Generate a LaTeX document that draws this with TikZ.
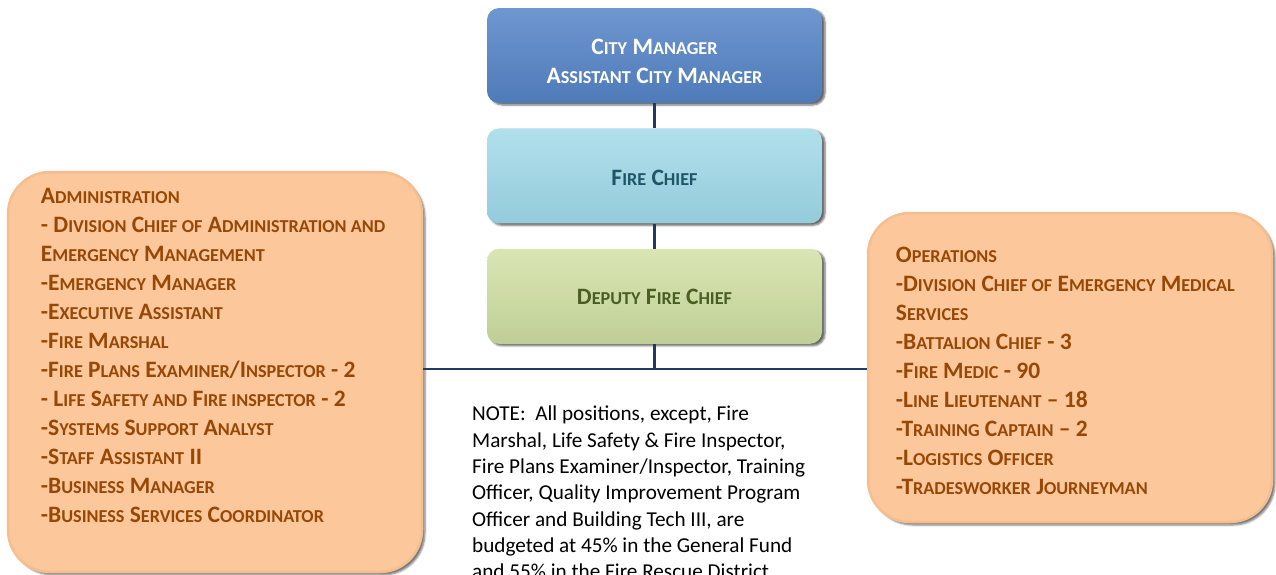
\documentclass[tikz,border=0pt]{standalone}
\usepackage{fontspec}
\setmainfont{Carlito}
\usetikzlibrary{positioning,shadows.blur}

\definecolor{cmblue}{HTML}{5585C8}
\definecolor{chiefblue}{HTML}{9ED8E8}
\definecolor{deputygreen}{HTML}{D0E0A2}
\definecolor{divorange}{HTML}{FCC79A}
\definecolor{chieftext}{HTML}{1F5566}
\definecolor{deputytext}{HTML}{4A5E22}
\definecolor{divtext}{HTML}{974806}
\definecolor{linkblue}{HTML}{1F3A64}

% small capitals by hand
\newcommand\sm[1]{{\fontsize{18.2}{29}\selectfont #1}}

\tikzset{
  topbox/.style={rounded corners=12pt, minimum width=335pt, minimum height=95pt,
    align=center, font=\bfseries\fontsize{23.5}{29}\selectfont,
    blur shadow={shadow xshift=3pt, shadow yshift=-2pt, shadow opacity=60}},
  divbox/.style={rounded corners=42pt, fill=divorange, draw=divorange!88!brown,
    line width=2.5pt, blur shadow={shadow xshift=3pt, shadow yshift=-3pt, shadow opacity=55}},
  divtext/.style={align=left, inner sep=0pt, text=divtext,
    font=\bfseries\fontsize{23.5}{29}\selectfont},
  link/.style={draw=linkblue, line width=2.4pt}
}

\begin{document}
\begin{tikzpicture}[x=1pt, y=-1pt]
  \useasboundingbox (0,0) rectangle (1276,574);

  % chain of command
  \node[topbox, top color=cmblue!85!white, bottom color=cmblue!92!black, text=white]
    (cm) at (654.5,55.5) {\rule{0pt}{27pt}C\sm{ITY} M\sm{ANAGER}\\A\sm{SSISTANT} C\sm{ITY} M\sm{ANAGER}};
  \node[topbox, top color=chiefblue!80!white, bottom color=chiefblue!94!black, text=chieftext,
    below=25pt of cm] (chief) {\rule{0pt}{19pt}F\sm{IRE} C\sm{HIEF}};
  \node[topbox, top color=deputygreen!80!white, bottom color=deputygreen!92!black, text=deputytext,
    below=25pt of chief] (deputy) {\rule{0pt}{17pt}D\sm{EPUTY} F\sm{IRE} C\sm{HIEF}};

  % divisions
  \node[divbox, minimum width=414pt, minimum height=400pt] (admin) at (215,372) {};
  \node[divbox, minimum width=404pt, minimum height=309pt] (ops) at (1070,367.5) {};

  \node[divtext, anchor=north west] (admintext) at ([xshift=34pt, yshift=-17pt]admin.north west) {%
    A\sm{DMINISTRATION}\\
    - D\sm{IVISION} C\sm{HIEF OF} A\sm{DMINISTRATION AND}\\
    E\sm{MERGENCY} M\sm{ANAGEMENT}\\
    -E\sm{MERGENCY} M\sm{ANAGER}\\
    -E\sm{XECUTIVE} A\sm{SSISTANT}\\
    -F\sm{IRE} M\sm{ARSHAL}\\
    -F\sm{IRE} P\sm{LANS} E\sm{XAMINER}/I\sm{NSPECTOR} - 2\\
    - L\sm{IFE} S\sm{AFETY AND} F\sm{IRE INSPECTOR} - 2\\
    -S\sm{YSTEMS} S\sm{UPPORT} A\sm{NALYST}\\
    -S\sm{TAFF} A\sm{SSISTANT} II\\
    -B\sm{USINESS} M\sm{ANAGER}\\
    -B\sm{USINESS} S\sm{ERVICES} C\sm{OORDINATOR}};

  \node[divtext, anchor=north west] (opstext) at ([xshift=29pt, yshift=-35.5pt]ops.north west) {%
    O\sm{PERATIONS}\\
    -D\sm{IVISION} C\sm{HIEF OF} E\sm{MERGENCY} M\sm{EDICAL}\\
    S\sm{ERVICES}\\
    -B\sm{ATTALION} C\sm{HIEF} - 3\\
    -F\sm{IRE} M\sm{EDIC} - 90\\
    -L\sm{INE} L\sm{IEUTENANT} – 18\\
    -T\sm{RAINING} C\sm{APTAIN} – 2\\
    -L\sm{OGISTICS} O\sm{FFICER}\\
    -T\sm{RADESWORKER} J\sm{OURNEYMAN}};

  % connectors
  \coordinate (join) at ([yshift=-25pt]deputy.south);
  \draw[link] (cm) -- (chief);
  \draw[link] (chief) -- (deputy);
  \draw[link] (deputy) -- (join);
  \draw[link] (admin.east |- join) -- (ops.west |- join);

  % budget note
  \node[anchor=north west, align=left, inner sep=0pt, font=\fontsize{21.2}{26.3}\selectfont]
    (note) at (472,406) {%
    NOTE: \ All positions, except, Fire\\
    Marshal, Life Safety \& Fire Inspector,\\
    Fire Plans Examiner/Inspector, Training\\
    Officer, Quality Improvement Program\\
    Officer and Building Tech III, are\\
    budgeted at 45\% in the General Fund\\
    and 55\% in the Fire Rescue District};
\end{tikzpicture}
\end{document}
